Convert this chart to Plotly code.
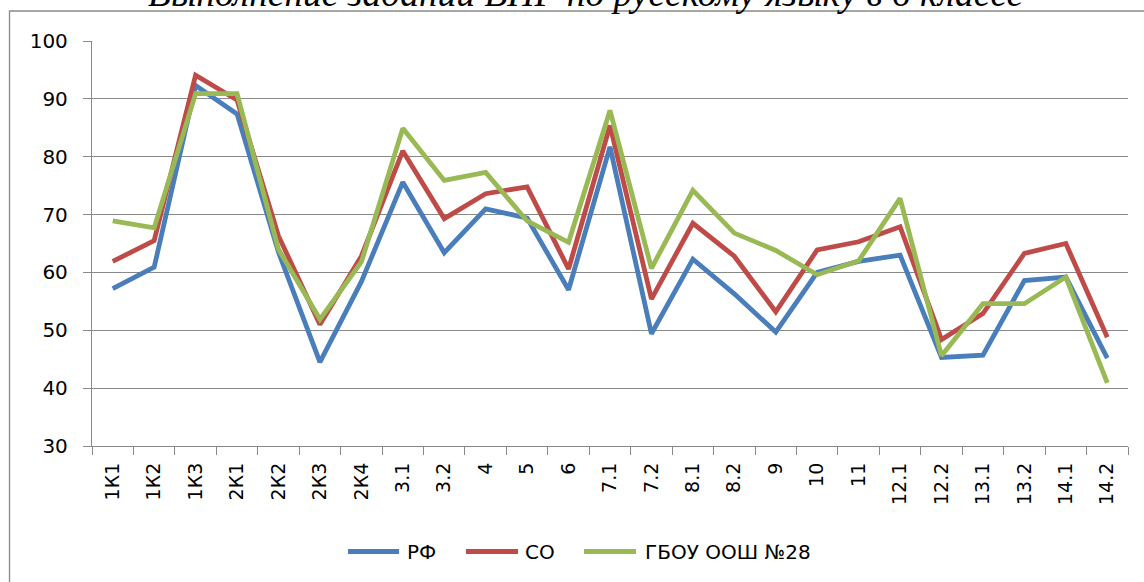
import plotly.graph_objects as go

categories = ["1К1", "1К2", "1К3", "2К1", "2К2", "2К3", "2К4", "3.1", "3.2", "4", "5", "6",
              "7.1", "7.2", "8.1", "8.2", "9", "10", "11", "12.1", "12.2", "13.1", "13.2", "14.1", "14.2"]
rf = [57.2, 60.9, 92.3, 87.4, 63.5, 44.5, 58.4, 75.6, 63.4, 71.0, 69.4, 57.0,
      81.7, 49.4, 62.3, 56.3, 49.7, 60.0, 61.9, 63.0, 45.3, 45.7, 58.6, 59.2, 45.2]
so = [61.9, 65.5, 94.1, 89.8, 66.3, 51.0, 62.8, 81.0, 69.3, 73.6, 74.8, 60.6,
      85.4, 55.4, 68.5, 62.8, 53.2, 63.9, 65.3, 67.9, 48.4, 52.9, 63.3, 65.0, 48.8]
school = [68.9, 67.7, 90.9, 90.9, 64.0, 51.9, 61.8, 84.9, 75.9, 77.3, 68.9, 65.2,
          88.0, 60.7, 74.2, 66.8, 63.8, 59.6, 62.0, 72.8, 45.6, 54.6, 54.6, 59.2, 40.9]
series_names = ["РФ", "СО", "ГБОУ ООШ №28"]
colors = ["#4A7EBB", "#BE4B48", "#98B954"]
title_text = "Выполнение заданий ВПР по русскому языку в 6 классе"

W, H = 1144, 582
L, R, T, B = 92, 1128, 41, 446
pw, ph = R - L, B - T

def px(x):
    return (x - L) / pw

def py(y):
    return (B - y) / ph

fig = go.Figure()
for name, vals, c in zip(series_names, [rf, so, school], colors):
    fig.add_trace(go.Scatter(x=categories, y=vals, mode="lines", name=name,
                             line=dict(color=c, width=4.8), showlegend=False,
                             hoverinfo="skip"))

font_main = "DejaVu Sans, Liberation Sans, Arial"
grid_c = "#898989"

fig.update_layout(
    width=W, height=H,
    margin=dict(l=L, r=W - R, t=T, b=H - B, autoexpand=False),
    paper_bgcolor="white", plot_bgcolor="white",
    showlegend=False,
    font=dict(family=font_main, color="black"),
)

fig.update_xaxes(type="category", range=[-0.5, len(categories) - 0.5], automargin=False,
                 showgrid=False, showline=True, linecolor=grid_c, linewidth=1.3,
                 ticks="outside", ticklen=8, tickcolor=grid_c, tickwidth=1.3,
                 tickson="boundaries", tickangle=-90, ticklabelstandoff=8,
                 tickfont=dict(family=font_main, size=19, color="black"))
fig.update_yaxes(range=[30, 100], dtick=10, automargin=False,
                 showgrid=True, gridcolor=grid_c, gridwidth=1.3,
                 showline=True, linecolor=grid_c, linewidth=1.3,
                 ticks="outside", ticklen=8, tickcolor=grid_c, tickwidth=1.3,
                 zeroline=False, ticklabelstandoff=11,
                 tickfont=dict(family=font_main, size=20, color="black"))

# outer chart frame
fig.add_shape(type="rect", xref="paper", yref="paper",
              x0=px(9.5), x1=px(1170), y0=py(610), y1=py(11),
              line=dict(color=grid_c, width=1.3), fillcolor="rgba(0,0,0,0)", layer="below")

# legend drawn manually (line samples + labels)
leg_y = 551.5
leg_items = [(346, 401, 405), (464, 520, 523), (582, 638, 643)]
for (x0, x1, tx), name, c in zip(leg_items, series_names, colors):
    fig.add_shape(type="line", xref="paper", yref="paper",
                  x0=px(x0 + 2), x1=px(x1 - 2), y0=py(leg_y), y1=py(leg_y),
                  line=dict(color=c, width=5))
    fig.add_annotation(text=name, xref="paper", yref="paper", x=px(tx), y=py(leg_y),
                       xanchor="left", yanchor="middle", showarrow=False,
                       font=dict(family=font_main, size=20, color="black"))

fig.add_annotation(text="<i>" + title_text + "</i>", xref="paper", yref="paper",
                   x=px(585), y=py(-6.5), xanchor="center", yanchor="middle", showarrow=False,
                   font=dict(family="Liberation Serif, Times New Roman", size=37.5, color="black"))

fig.write_html("out.html", config={"displayModeBar": False},
               post_script="document.body.style.margin='0';document.body.style.padding='0';")
